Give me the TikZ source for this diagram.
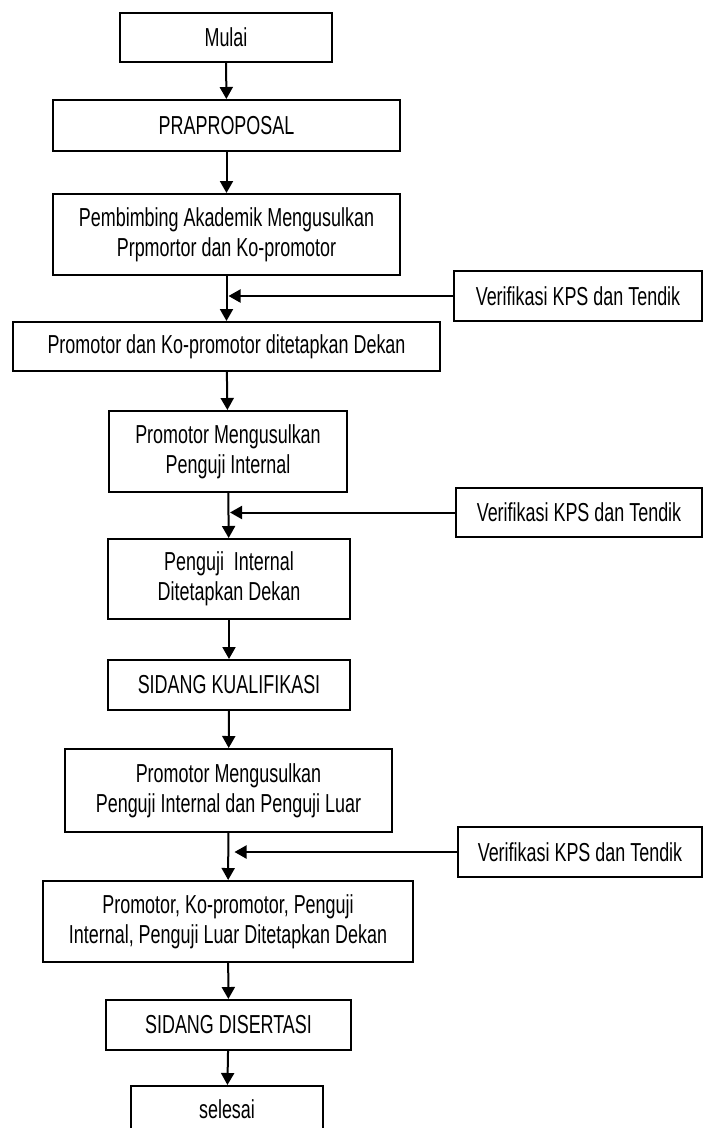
\documentclass[tikz,border=0pt]{standalone}
\usepackage{fontspec}
\setmainfont{Liberation Sans}[FakeStretch=0.69]
\usetikzlibrary{arrows.meta}
\begin{document}
\begin{tikzpicture}[x=1pt,y=-1pt,
  box/.style={draw,line width=2pt,align=center,inner sep=0pt,font=\fontsize{26}{30}\selectfont},
  arr/.style={line width=2pt,-{Triangle[length=12pt,width=13pt]}}]
\useasboundingbox (0,0) rectangle (703,1128);
\node (mulai) [box,minimum width=212,minimum height=49] at (226,37.5) {Mulai};
\node (praproposal) [box,minimum width=347,minimum height=51] at (226.5,125.5) {PRAPROPOSAL};
\node (pembimbing) [box,minimum width=347,minimum height=81] at (226.5,234.5) {Pembimbing Akademik Mengusulkan\\Prpmortor dan Ko-promotor};
\node (verifA) [box,minimum width=248,minimum height=50] at (578,296) {Verifikasi KPS dan Tendik};
\node (tetapA) [box,minimum width=427,minimum height=49] at (226.5,346.5) {Promotor dan Ko-promotor ditetapkan Dekan};
\node (usulA) [box,minimum width=238,minimum height=81] at (228,451.5) {Promotor Mengusulkan\\Penguji Internal};
\node (verifB) [box,minimum width=246,minimum height=49] at (579,512.5) {Verifikasi KPS dan Tendik};
\node (tetapB) [box,minimum width=242,minimum height=80] at (229,579) {Penguji~~Internal\\Ditetapkan Dekan};
\node (kualifikasi) [box,minimum width=242,minimum height=50] at (229,685) {SIDANG KUALIFIKASI};
\node (usulB) [box,minimum width=327,minimum height=83] at (228.5,790.5) {Promotor Mengusulkan\\Penguji Internal dan Penguji Luar};
\node (verifC) [box,minimum width=244,minimum height=50] at (580,852) {Verifikasi KPS dan Tendik};
\node (tetapC) [box,minimum width=370,minimum height=81] at (228,921.5) {Promotor, Ko-promotor, Penguji\\Internal, Penguji Luar Ditetapkan Dekan};
\node (disertasi) [box,minimum width=245,minimum height=50] at (228.5,1025) {SIDANG DISERTASI};
\node (selesai) [box,minimum width=192,minimum height=46] at (227,1109) {selesai};
\draw [arr] (mulai) -- (praproposal);
\draw [arr] (praproposal) -- (pembimbing);
\draw [arr] (pembimbing) -- (tetapA);
\draw [arr] (tetapA) -- (usulA);
\draw [arr] (usulA) -- (tetapB);
\draw [arr] (tetapB) -- (kualifikasi);
\draw [arr] (kualifikasi) -- (usulB);
\draw [arr] (usulB) -- (tetapC);
\draw [arr] (tetapC) -- (disertasi);
\draw [arr] (disertasi) -- (selesai);
\draw [arr,shorten >=2pt] (verifA) -- (verifA -| pembimbing);
\draw [arr,shorten >=2pt] (verifB) -- (verifB -| usulA);
\draw [arr,shorten >=6pt] (verifC) -- (verifC -| usulB);
\end{tikzpicture}
\end{document}
